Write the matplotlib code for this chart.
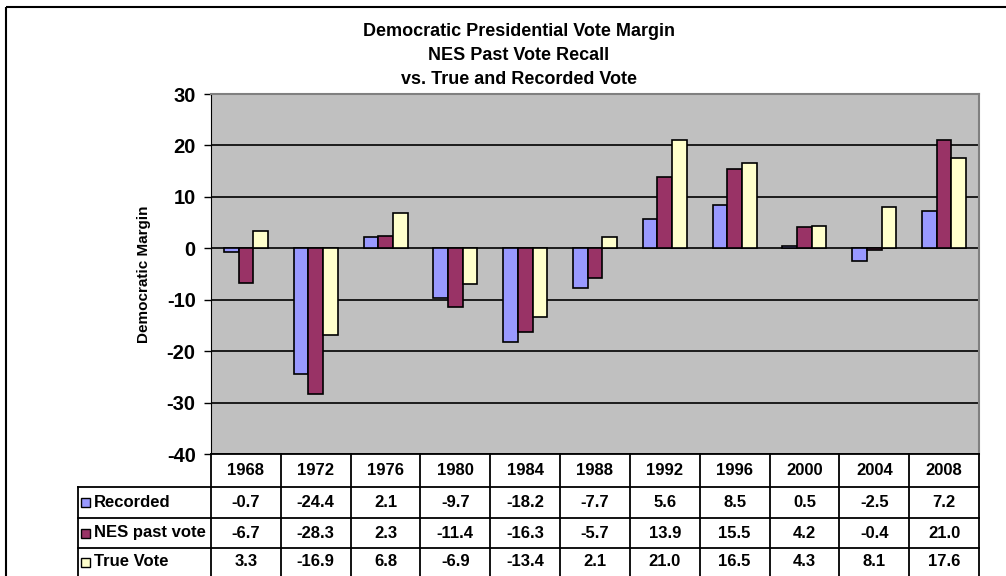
import matplotlib.pyplot as plt
from matplotlib.patches import Rectangle
from matplotlib.lines import Line2D
import numpy as np

years = ["1968", "1972", "1976", "1980", "1984", "1988", "1992", "1996", "2000", "2004", "2008"]
recorded = [-0.7, -24.4, 2.1, -9.7, -18.2, -7.7, 5.6, 8.5, 0.5, -2.5, 7.2]
nes_past = [-6.7, -28.3, 2.3, -11.4, -16.3, -5.7, 13.9, 15.5, 4.2, -0.4, 21.0]
true_vote = [3.3, -16.9, 6.8, -6.9, -13.4, 2.1, 21.0, 16.5, 4.3, 8.1, 17.6]
series_names = ["Recorded", "NES past vote", "True Vote"]
series_colors = ["#9999FF", "#993366", "#FFFFCC"]
yticks = [-40, -30, -20, -10, 0, 10, 20, 30]

plt.rcParams['font.family'] = ['Liberation Sans', 'DejaVu Sans']
plt.rcParams['font.weight'] = 'bold'

W, H = 1006, 576
fig = plt.figure(figsize=(W / 100, H / 100), dpi=100)

# plot area in pixels
px_l, px_r, px_t, px_b = 211, 979, 94, 454

ax = fig.add_axes([px_l / W, 1 - px_b / H, (px_r - px_l) / W, (px_b - px_t) / H])
ax.set_facecolor("#C0C0C0")
n = len(years)
x = np.arange(n)
bw = 0.21
for k, (vals, col) in enumerate(zip([recorded, nes_past, true_vote], series_colors)):
    ax.bar(x + (k - 1) * bw, vals, bw, color=col, edgecolor="black", linewidth=1.2, zorder=3)

ax.set_xlim(-0.5, n - 0.5)
ax.set_ylim(-40, 30)
ax.set_yticks(yticks)
ax.set_yticklabels([str(t) for t in yticks], fontsize=14.5, fontweight="bold")
ax.set_xticks([])
for t in yticks:
    ax.axhline(t, color="black", linewidth=1.2, zorder=2)
for s in ["top", "right"]:
    ax.spines[s].set_color("#808080")
    ax.spines[s].set_linewidth(1.5)
ax.spines["left"].set_color("black")
ax.spines["bottom"].set_visible(False)
ax.tick_params(axis="y", length=5, width=1, pad=6)

ax.set_ylabel("Democratic Margin", fontsize=11, fontweight="bold", labelpad=11)

title_lines = ["Democratic Presidential Vote Margin", "NES Past Vote Recall", "vs. True and Recorded Vote"]
for line, yy in zip(title_lines, [31, 56, 80]):
    fig.text(519 / W, 1 - yy / H, line, ha="center", va="center",
             fontsize=13, fontweight="bold")

# overlay in pixel coordinates for frame and data table
ov = fig.add_axes([0, 0, 1, 1], zorder=5)
ov.set_xlim(0, W)
ov.set_ylim(H, 0)
ov.axis("off")
ov.patch.set_alpha(0)

ov.add_patch(Rectangle((6, 7), 1200, 700, fill=False, edgecolor="black", linewidth=1.5))

row_y = [454, 487, 518, 548, 579]
col_w = (px_r - px_l) / n
col_x = [px_l + i * col_w for i in range(n + 1)]
lw = 1.3
ov.add_line(Line2D([px_l, px_r], [row_y[0]] * 2, color="black", lw=lw))
for yy in row_y[1:4]:
    ov.add_line(Line2D([78, px_r], [yy, yy], color="black", lw=lw))
for xx in col_x:
    ov.add_line(Line2D([xx, xx], [row_y[0], H], color="black", lw=lw))
ov.add_line(Line2D([78, 78], [row_y[1], H], color="black", lw=lw))

row_c = [(row_y[1] + row_y[2]) / 2, (row_y[2] + row_y[3]) / 2, (row_y[3] + H) / 2]
for i, yr in enumerate(years):
    cx = (col_x[i] + col_x[i + 1]) / 2
    ov.text(cx, (row_y[0] + row_y[1]) / 2, yr, ha="center", va="center",
            fontsize=12, fontweight="bold")
    for r, vals in enumerate([recorded, nes_past, true_vote]):
        ov.text(cx, row_c[r], f"{vals[i]:.1f}", ha="center", va="center",
                fontsize=12, fontweight="bold")

for r, (name, col) in enumerate(zip(series_names, series_colors)):
    cy = row_c[r]
    ov.add_patch(Rectangle((81, cy - 4.5), 9, 9, facecolor=col, edgecolor="black", linewidth=1))
    ov.text(94, cy, name, ha="left", va="center", fontsize=12, fontweight="bold")

fig.savefig("out.png", dpi=100)
